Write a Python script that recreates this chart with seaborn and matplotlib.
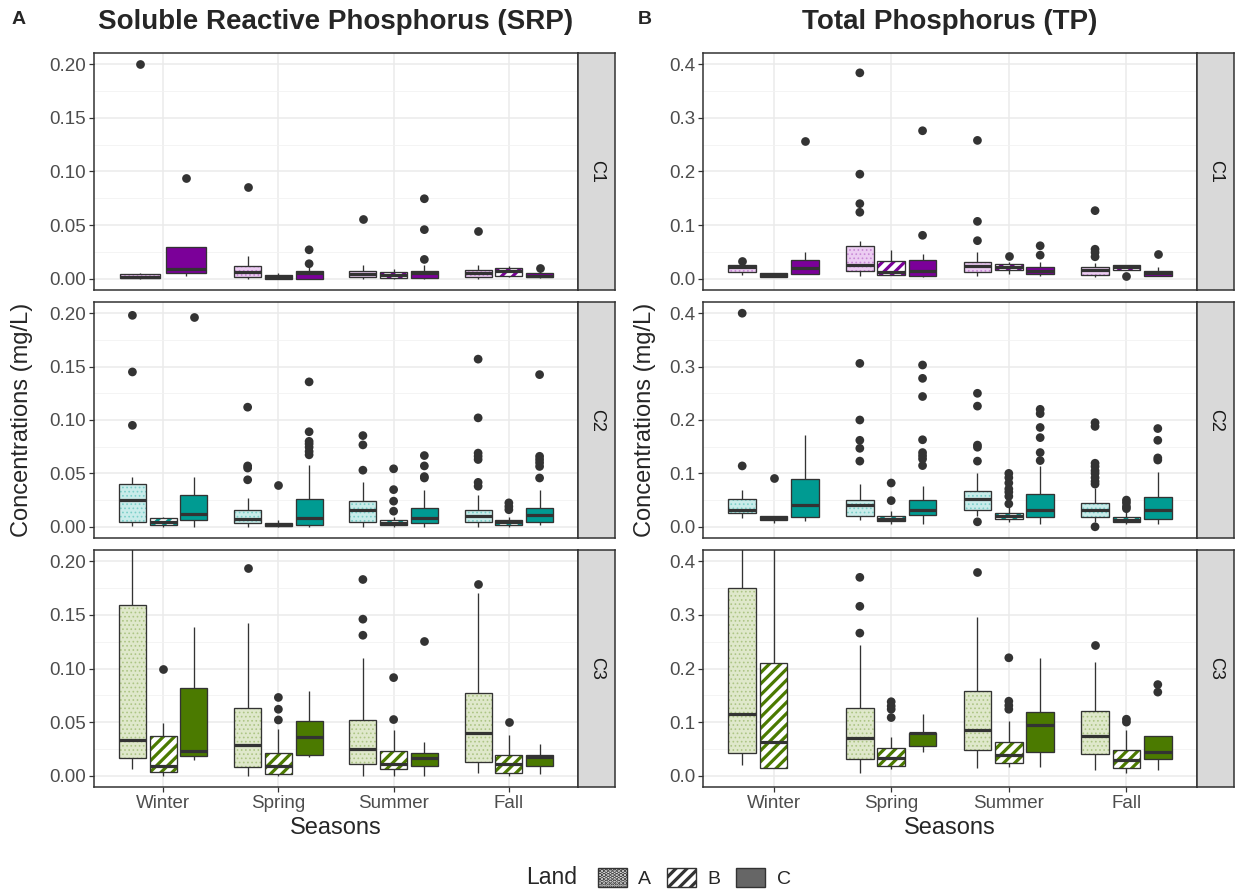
import numpy as np
import pandas as pd
import matplotlib
matplotlib.use("Agg")
import matplotlib.pyplot as plt
import matplotlib.colors as mcolors
from matplotlib.patches import Patch, PathPatch
import seaborn as sns

SEASONS = ["Winter", "Spring", "Summer", "Fall"]
LANDS = ["A", "B", "C"]
CLASSES = ["C1", "C2", "C3"]

# five-number summaries: lower whisker, Q1, median, Q3, upper whisker
srp_c1 = {
    ("Winter", "A"): [0.000, 0.001, 0.002, 0.004, 0.005],
    ("Winter", "C"): [0.003, 0.0056, 0.0087, 0.030, 0.030],
    ("Spring", "A"): [0.000, 0.002, 0.006, 0.012, 0.021],
    ("Spring", "B"): [0.000, 0.000, 0.0015, 0.0034, 0.0056],
    ("Spring", "C"): [0.000, 0.000, 0.005, 0.0074, 0.011],
    ("Summer", "A"): [0.000, 0.0012, 0.0043, 0.0074, 0.0127],
    ("Summer", "B"): [0.000, 0.0006, 0.0034, 0.006, 0.0087],
    ("Summer", "C"): [0.000, 0.0006, 0.0056, 0.0074, 0.0127],
    ("Fall", "A"): [0.000, 0.0019, 0.005, 0.008, 0.0127],
    ("Fall", "B"): [0.0019, 0.003, 0.0071, 0.0099, 0.012],
    ("Fall", "C"): [0.0006, 0.0012, 0.003, 0.005, 0.0087],
}
srp_c1_out = {
    ("Winter", "A"): [0.200], ("Winter", "C"): [0.0935],
    ("Spring", "A"): [0.086], ("Spring", "C"): [0.014, 0.027],
    ("Summer", "A"): [0.0557], ("Summer", "C"): [0.018, 0.0458, 0.0746],
    ("Fall", "A"): [0.0443], ("Fall", "C"): [0.0102],
}

srp_c2 = {
    ("Winter", "A"): [0.001, 0.0047, 0.0248, 0.040, 0.0466],
    ("Winter", "B"): [0.000, 0.002, 0.0047, 0.008, 0.0096],
    ("Winter", "C"): [0.000, 0.0062, 0.012, 0.0295, 0.0466],
    ("Spring", "A"): [0.000, 0.0037, 0.0075, 0.0158, 0.027],
    ("Spring", "B"): [0.000, 0.0006, 0.002, 0.0037, 0.0068],
    ("Spring", "C"): [0.000, 0.002, 0.008, 0.026, 0.058],
    ("Summer", "A"): [0.000, 0.0047, 0.0155, 0.0245, 0.0416],
    ("Summer", "B"): [0.000, 0.0019, 0.0037, 0.0068, 0.0093],
    ("Summer", "C"): [0.000, 0.0037, 0.0084, 0.0177, 0.0348],
    ("Fall", "A"): [0.000, 0.0047, 0.010, 0.016, 0.0295],
    ("Fall", "B"): [0.000, 0.002, 0.0043, 0.0068, 0.0093],
    ("Fall", "C"): [0.002, 0.0047, 0.0106, 0.0177, 0.0348],
}
srp_c2_out = {
    ("Winter", "A"): [0.198, 0.145, 0.095], ("Winter", "C"): [0.196],
    ("Spring", "A"): [0.112, 0.057, 0.055, 0.044], ("Spring", "B"): [0.039],
    ("Spring", "C"): [0.1357, 0.089, 0.080, 0.0776, 0.0745, 0.0705, 0.0674],
    ("Summer", "A"): [0.0854, 0.0767, 0.053],
    ("Summer", "B"): [0.0543, 0.0348, 0.024, 0.0146],
    ("Summer", "C"): [0.0667, 0.057, 0.047, 0.0457],
    ("Fall", "A"): [0.157, 0.102, 0.069, 0.066, 0.063, 0.0416, 0.038],
    ("Fall", "B"): [0.0224, 0.019, 0.016],
    ("Fall", "C"): [0.1425, 0.066, 0.063, 0.060, 0.0565, 0.0457],
}

srp_c3 = {
    ("Winter", "A"): [0.006, 0.017, 0.033, 0.159, 0.25],
    ("Winter", "B"): [0.000, 0.0037, 0.009, 0.037, 0.049],
    ("Winter", "C"): [0.015, 0.0186, 0.023, 0.082, 0.139],
    ("Spring", "A"): [0.000, 0.0084, 0.0288, 0.0636, 0.142],
    ("Spring", "B"): [0.000, 0.002, 0.0093, 0.0214, 0.044],
    ("Spring", "C"): [0.0177, 0.019, 0.0357, 0.051, 0.079],
    ("Summer", "A"): [0.000, 0.0105, 0.0245, 0.0518, 0.110],
    ("Summer", "B"): [0.000, 0.0059, 0.0105, 0.0233, 0.043],
    ("Summer", "C"): [0.000, 0.009, 0.0161, 0.0208, 0.031],
    ("Fall", "A"): [0.003, 0.0124, 0.0403, 0.0772, 0.170],
    ("Fall", "B"): [0.000, 0.0028, 0.0109, 0.0192, 0.0384],
    ("Fall", "C"): [0.002, 0.0093, 0.0177, 0.0198, 0.0295],
}
srp_c3_out = {
    ("Winter", "B"): [0.100],
    ("Spring", "A"): [0.194], ("Spring", "B"): [0.073, 0.062, 0.052],
    ("Summer", "A"): [0.183, 0.146, 0.131], ("Summer", "B"): [0.0915, 0.0524],
    ("Summer", "C"): [0.1256],
    ("Fall", "A"): [0.1786], ("Fall", "B"): [0.050],
}

tp_c1 = {
    ("Winter", "A"): [0.007, 0.013, 0.0224, 0.0255, 0.028],
    ("Winter", "B"): [0.0037, 0.0037, 0.007, 0.010, 0.010],
    ("Winter", "C"): [0.0087, 0.0087, 0.020, 0.035, 0.050],
    ("Spring", "A"): [0.005, 0.015, 0.0255, 0.061, 0.071],
    ("Spring", "B"): [0.007, 0.007, 0.013, 0.033, 0.053],
    ("Spring", "C"): [0.004, 0.006, 0.015, 0.035, 0.047],
    ("Summer", "A"): [0.005, 0.013, 0.024, 0.0317, 0.050],
    ("Summer", "B"): [0.009, 0.016, 0.022, 0.0267, 0.032],
    ("Summer", "C"): [0.005, 0.0087, 0.015, 0.0224, 0.032],
    ("Fall", "A"): [0.0037, 0.007, 0.017, 0.0224, 0.0286],
    ("Fall", "B"): [0.017, 0.017, 0.022, 0.0255, 0.0255],
    ("Fall", "C"): [0.005, 0.005, 0.010, 0.015, 0.022],
}
tp_c1_out = {
    ("Winter", "A"): [0.033], ("Winter", "C"): [0.256],
    ("Spring", "A"): [0.384, 0.195, 0.140, 0.124], ("Spring", "C"): [0.276, 0.081],
    ("Summer", "A"): [0.258, 0.107, 0.071], ("Summer", "B"): [0.043],
    ("Summer", "C"): [0.0615, 0.044],
    ("Fall", "A"): [0.127, 0.055, 0.049, 0.041], ("Fall", "B"): [0.006],
    ("Fall", "C"): [0.046],
}

tp_c2 = {
    ("Winter", "A"): [0.0167, 0.026, 0.032, 0.0526, 0.069],
    ("Winter", "B"): [0.0074, 0.0124, 0.0167, 0.021, 0.021],
    ("Winter", "C"): [0.0105, 0.0186, 0.0415, 0.0898, 0.1715],
    ("Spring", "A"): [0.0124, 0.021, 0.040, 0.0508, 0.080],
    ("Spring", "B"): [0.005, 0.0105, 0.0149, 0.0198, 0.030],
    ("Spring", "C"): [0.0043, 0.0217, 0.031, 0.0508, 0.0755],
    ("Summer", "A"): [0.0198, 0.031, 0.0526, 0.0675, 0.100],
    ("Summer", "B"): [0.0093, 0.0155, 0.021, 0.026, 0.0415],
    ("Summer", "C"): [0.0043, 0.0186, 0.032, 0.0613, 0.1146],
    ("Fall", "A"): [0.0093, 0.0186, 0.032, 0.0446, 0.0724],
    ("Fall", "B"): [0.005, 0.0093, 0.0136, 0.018, 0.029],
    ("Fall", "C"): [0.0056, 0.0149, 0.031, 0.0557, 0.103],
}
tp_c2_out = {
    ("Winter", "A"): [0.400, 0.114], ("Winter", "B"): [0.091],
    ("Spring", "A"): [0.306, 0.200, 0.162, 0.147, 0.123], ("Spring", "B"): [0.082, 0.049],
    ("Spring", "C"): [0.303, 0.278, 0.244, 0.163, 0.139, 0.133, 0.127, 0.1146],
    ("Summer", "A"): [0.250, 0.226, 0.153, 0.149, 0.123, 0.0093],
    ("Summer", "B"): [0.100, 0.092, 0.082, 0.071, 0.065, 0.057, 0.043],
    ("Summer", "C"): [0.220, 0.212, 0.186, 0.167, 0.139, 0.124],
    ("Fall", "A"): [0.195, 0.188, 0.119, 0.113, 0.105, 0.100, 0.092, 0.085, 0.080, 0.000],
    ("Fall", "B"): [0.050, 0.045, 0.038, 0.034],
    ("Fall", "C"): [0.184, 0.162, 0.129, 0.125],
}

tp_c3 = {
    ("Winter", "A"): [0.020, 0.0428, 0.116, 0.350, 0.60],
    ("Winter", "B"): [0.0136, 0.0136, 0.063, 0.210, 0.60],
    ("Spring", "A"): [0.0056, 0.031, 0.0707, 0.1265, 0.244],
    ("Spring", "B"): [0.012, 0.0186, 0.034, 0.052, 0.0726],
    ("Spring", "C"): [0.0446, 0.055, 0.079, 0.0806, 0.115],
    ("Summer", "A"): [0.0136, 0.0477, 0.085, 0.1575, 0.296],
    ("Summer", "B"): [0.0167, 0.023, 0.0384, 0.062, 0.1017],
    ("Summer", "C"): [0.0167, 0.0434, 0.0955, 0.118, 0.2195],
    ("Fall", "A"): [0.0105, 0.040, 0.0738, 0.120, 0.213],
    ("Fall", "B"): [0.006, 0.0136, 0.029, 0.0477, 0.085],
    ("Fall", "C"): [0.0105, 0.031, 0.0434, 0.0738, 0.0738],
}
tp_c3_out = {
    ("Spring", "A"): [0.370, 0.316, 0.266], ("Spring", "B"): [0.138, 0.130, 0.124, 0.1085],
    ("Summer", "A"): [0.380], ("Summer", "B"): [0.220, 0.139, 0.131, 0.124],
    ("Fall", "A"): [0.244], ("Fall", "B"): [0.1054, 0.100],
    ("Fall", "C"): [0.170, 0.156],
}

# colours per class: dark (land C / stripes), light (land A fill), dot colour for land A
class_dark = {"C1": "#7b0099", "C2": "#009b92", "C3": "#4b7a00"}
class_light = {"C1": "#eccdf2", "C2": "#c9ecea", "C3": "#dfe8cb"}
class_dots = {"C1": "#c98ad6", "C2": "#7ccfc9", "C3": "#adc585"}

sns.set_theme(style="white")
plt.rcParams["font.family"] = ["Liberation Sans", "DejaVu Sans"]
plt.rcParams["hatch.linewidth"] = 2.3

W, H = 1236, 894
EDGE = "#333333"


def rect(x0, y0, x1, y1):
    return [x0 / W, 1 - y1 / H, (x1 - x0) / W, (y1 - y0) / H]


def to_frame(d):
    rows = [(s, l, v) for (s, l), vals in d.items() for v in vals]
    return pd.DataFrame(rows, columns=["Season", "Land", "value"])


def style_box(patch, land, cls):
    if land == "A":
        face, hatch, hc, hlw = class_light[cls], "....", class_dots[cls], 0.7
    elif land == "B":
        face, hatch, hc, hlw = "white", "///", class_dark[cls], 2.3
    else:
        face, hatch, hc, hlw = class_dark[cls], None, None, None
    patch.set_facecolor(face)
    patch.set_edgecolor(EDGE)
    if hatch:
        patch.set_hatch(hatch)
        if hasattr(patch, "set_hatchcolor"):
            patch.set_hatchcolor(hc)
        else:
            patch._hatch_color = mcolors.to_rgba(hc)
        if hasattr(patch, "set_hatch_linewidth"):
            patch.set_hatch_linewidth(hlw)


def draw_boxes(ax, stats, outs, cls, hue_order):
    n_before = len(ax.patches)
    box = to_frame(stats)
    pal = {l: class_dark[cls] for l in hue_order}
    sns.boxplot(data=box, x="Season", y="value", hue="Land", order=SEASONS,
                hue_order=hue_order, palette=pal, saturation=1, width=0.8, gap=0.12,
                whis=(0, 100), showfliers=False, linecolor=EDGE, linewidth=0.95,
                medianprops={"linewidth": 2.3}, capprops={"visible": False},
                legend=False, ax=ax)
    slot = 0.8 / len(hue_order)
    for p in ax.patches[n_before:]:
        if not isinstance(p, PathPatch):
            continue
        xs = p.get_path().vertices[:, 0]
        xc = (xs.min() + xs.max()) / 2
        off = xc - round(xc)
        idx = int(round((off + 0.4) / slot - 0.5))
        style_box(p, hue_order[idx], cls)
    out = to_frame(outs)
    if len(out):
        sns.stripplot(data=out, x="Season", y="value", hue="Land", order=SEASONS,
                      hue_order=hue_order, palette={l: EDGE for l in hue_order},
                      dodge=True, jitter=False, size=6.3, linewidth=0,
                      legend=False, ax=ax)


panels = [
    ("SRP", [srp_c1, srp_c2, srp_c3], [srp_c1_out, srp_c2_out, srp_c3_out]),
    ("TP", [tp_c1, tp_c2, tp_c3], [tp_c1_out, tp_c2_out, tp_c3_out]),
]
col_x = [(94, 578, 615), (703, 1197, 1234)]
row_y = [(53, 290), (302, 538), (550, 787)]
y_setup = {
    "SRP": ((-0.0105, 0.2105), [0, 0.05, 0.10, 0.15, 0.20], ["0.00", "0.05", "0.10", "0.15", "0.20"]),
    "TP": ((-0.021, 0.421), [0, 0.1, 0.2, 0.3, 0.4], ["0.0", "0.1", "0.2", "0.3", "0.4"]),
}

fig = plt.figure(figsize=(W / 100, H / 100), dpi=100)
fig.patch.set_facecolor("white")

for c, (name, stats_list, outs_list) in enumerate(panels):
    x0, x1, xs = col_x[c]
    ylim, yt, ytl = y_setup[name]
    for r, cls in enumerate(CLASSES):
        y0, y1 = row_y[r]
        ax = fig.add_axes(rect(x0, y0, x1, y1))
        stats, outs = stats_list[r], outs_list[r]
        if name == "SRP" and cls == "C1":
            # winter only has lands A and C here, so its boxes share the slot two ways
            w_stats = {k: v for k, v in stats.items() if k[0] == "Winter"}
            w_outs = {k: v for k, v in outs.items() if k[0] == "Winter"}
            o_stats = {k: v for k, v in stats.items() if k[0] != "Winter"}
            o_outs = {k: v for k, v in outs.items() if k[0] != "Winter"}
            draw_boxes(ax, w_stats, w_outs, cls, ["A", "C"])
            draw_boxes(ax, o_stats, o_outs, cls, LANDS)
        else:
            draw_boxes(ax, stats, outs, cls, LANDS)

        ax.set_xlim(-0.6, 3.6)
        ax.set_ylim(*ylim)
        ax.set_yticks(yt)
        ax.set_yticklabels(ytl)
        ax.set_yticks([(a + b) / 2 for a, b in zip(yt[:-1], yt[1:])], minor=True)
        ax.set_xticks(range(len(SEASONS)))
        ax.set_xticklabels(SEASONS)
        ax.set_xlabel("")
        ax.set_ylabel("")
        ax.set_axisbelow(True)
        ax.grid(True, which="major", color="#ebebeb", linewidth=1.1)
        ax.grid(True, which="minor", axis="y", color="#f2f2f2", linewidth=0.6)
        ax.tick_params(axis="y", which="major", length=3.5, width=0.9, color=EDGE,
                       labelsize=13.5, labelcolor="#4d4d4d", pad=2, left=True)
        ax.tick_params(axis="y", which="minor", length=0)
        if r == 2:
            ax.tick_params(axis="x", length=3.5, width=0.9, color=EDGE,
                           labelsize=13.5, labelcolor="#4d4d4d", pad=2, bottom=True)
        else:
            ax.tick_params(axis="x", length=0, labelbottom=False)
        for sp in ax.spines.values():
            sp.set_visible(True)
            sp.set_color(EDGE)
            sp.set_linewidth(1.1)

        sax = fig.add_axes(rect(x1, y0, xs, y1))
        sax.set_facecolor("#d9d9d9")
        sax.set_xticks([])
        sax.set_yticks([])
        for sp in sax.spines.values():
            sp.set_color(EDGE)
            sp.set_linewidth(1.1)
        sax.text(0.5, 0.5, cls, rotation=-90, ha="center", va="center",
                 fontsize=13, color="#1a1a1a", transform=sax.transAxes)

    xm = (x0 + x1) / 2
    fig.text(xm / W, 1 - 828 / H, "Seasons", ha="center", va="center", fontsize=17)

fig.text(336 / W, 1 - 22 / H, "Soluble Reactive Phosphorus (SRP)", ha="center",
         va="center", fontsize=20, fontweight="bold")
fig.text(950 / W, 1 - 22 / H, "Total Phosphorus (TP)", ha="center",
         va="center", fontsize=20, fontweight="bold")
fig.text(12 / W, 1 - 20 / H, "A", ha="left", va="center", fontsize=14, fontweight="bold")
fig.text(638 / W, 1 - 20 / H, "B", ha="left", va="center", fontsize=14, fontweight="bold")
fig.text(22 / W, 1 - 420 / H, "Concentrations (mg/L)", rotation=90, ha="center",
         va="center", fontsize=17)
fig.text(645 / W, 1 - 420 / H, "Concentrations (mg/L)", rotation=90, ha="center",
         va="center", fontsize=17)

# legend with grey versions of the land fills
handles = [
    Patch(facecolor="#e6e6e6", edgecolor=EDGE, hatch="...."),
    Patch(facecolor="white", edgecolor=EDGE, hatch="///"),
    Patch(facecolor="#666666", edgecolor=EDGE),
]
fig.text(552 / W, 1 - 878 / H, "Land", ha="center", va="center", fontsize=16.5)
fig.legend(handles, LANDS, ncol=3, loc="center left", bbox_to_anchor=(580 / W, 1 - 878 / H),
           frameon=False, fontsize=14, handlelength=1.5, handleheight=1.1,
           columnspacing=0.8, handletextpad=0.6)

fig.savefig("out.png", dpi=100)
